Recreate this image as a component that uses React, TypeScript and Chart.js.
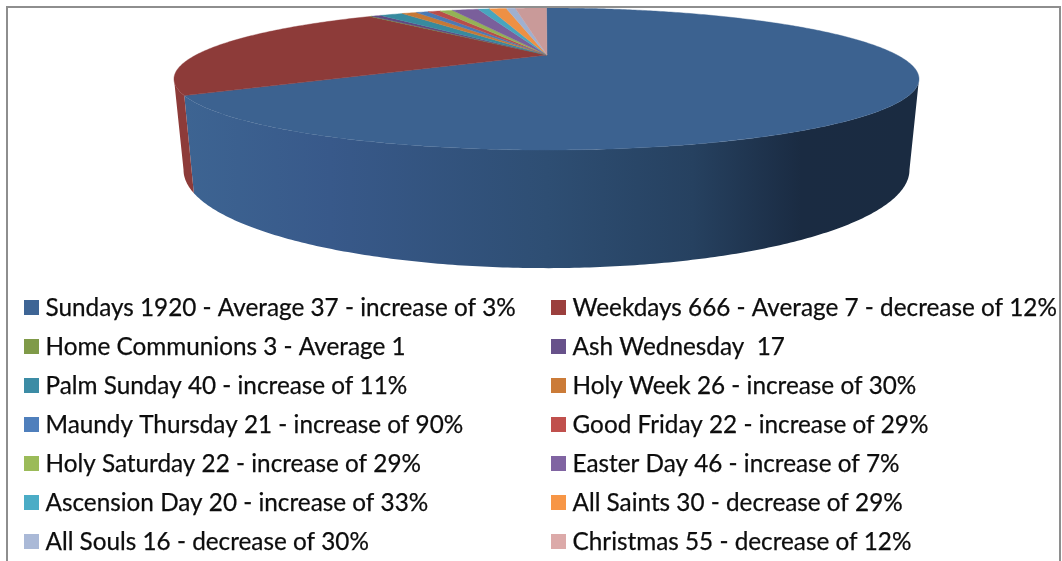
import React, { useEffect, useRef } from "react";
import { Chart, registerables } from "chart.js";

Chart.register(...registerables);

const legendLabels = [
  "Sundays 1920 - Average 37 - increase of 3%",
  "Weekdays 666 - Average 7 - decrease of 12%",
  "Home Communions 3 - Average 1",
  "Ash Wednesday  17",
  "Palm Sunday 40 - increase of 11%",
  "Holy Week 26 - increase of 30%",
  "Maundy Thursday 21 - increase of 90%",
  "Good Friday 22 - increase of 29%",
  "Holy Saturday 22 - increase of 29%",
  "Easter Day 46 - increase of 7%",
  "Ascension Day 20 - increase of 33%",
  "All Saints 30 - decrease of 29%",
  "All Souls 16 - decrease of 30%",
  "Christmas 55 - decrease of 12%",
];
const services = [1920, 666, 3, 17, 40, 26, 21, 22, 22, 46, 20, 30, 16, 55];
const legendColors = ["#3E6595", "#9B3F3D", "#7F9A48", "#67518A", "#3C8CA5", "#CB7B38", "#4F7FBC", "#C0504D", "#9BBB59", "#8064A2", "#4BACC6", "#F79646", "#AAB9D7", "#DCAAA9"];
const faceColors = ["#3C6290", "#8D3B39", "#78923F", "#5F4A82", "#378A9F", "#C67836", "#4A7AB5", "#B84D4A", "#94B255", "#7A5F9B", "#48A5BE", "#EE9044", "#9FB0D0", "#C99A99"];

const FONT = '24.3px Lato, "Open Sans", sans-serif';

// Perspective projection of the unit disc onto the picture
const topPlane = { cx: 546.5, cy: 55, a: 350.6, b: 62.9, k: 0.338 };
const basePlane = { cx: 546.5, cy: 137, a: 342, b: 87.2, k: 0.335 };
// the rim can be seen only between these two angles (canvas radians)
const RIM_FROM = 0.34;
const RIM_TO = Math.PI - 0.34;

function project(p: typeof topPlane, angle: number): [number, number] {
  const u = Math.cos(angle);
  const v = -Math.sin(angle);
  const d = 1 + p.k * v;
  return [p.cx + (p.a * u) / d, p.cy - (p.b * v) / d];
}

const pie3d = {
  id: "pie3d",
  beforeDatasetsDraw(chart: any) {
    const ctx: CanvasRenderingContext2D = chart.ctx;
    const arcs = chart.getDatasetMeta(0).data;
    const wallGradient = ctx.createLinearGradient(185, 0, 910, 0);
    wallGradient.addColorStop(0, "#3D6492");
    wallGradient.addColorStop(0.2, "#38598A");
    wallGradient.addColorStop(0.5, "#2E4E73");
    wallGradient.addColorStop(0.7, "#264160");
    wallGradient.addColorStop(0.85, "#1A2B42");
    wallGradient.addColorStop(1, "#1A2B41");

    arcs.forEach((arc: any, i: number) => {
      const lo = Math.max(arc.startAngle, RIM_FROM);
      const hi = Math.min(arc.endAngle, RIM_TO);
      if (hi <= lo) return;
      const steps = Math.ceil((hi - lo) / 0.01);
      ctx.fillStyle = i === 0 ? wallGradient : faceColors[i];
      ctx.beginPath();
      for (let s = 0; s <= steps; s++) {
        const [x, y] = project(topPlane, lo + ((hi - lo) * s) / steps);
        if (s === 0) ctx.moveTo(x, y);
        else ctx.lineTo(x, y);
      }
      for (let s = steps; s >= 0; s--) {
        const [x, y] = project(basePlane, lo + ((hi - lo) * s) / steps);
        ctx.lineTo(x, y);
      }
      ctx.closePath();
      ctx.fill();
    });

    // the top face
    arcs.forEach((arc: any, i: number) => {
      const steps = Math.max(2, Math.ceil((arc.endAngle - arc.startAngle) / 0.01));
      ctx.fillStyle = faceColors[i];
      ctx.strokeStyle = faceColors[i];
      ctx.lineWidth = 0.4;
      ctx.beginPath();
      ctx.moveTo(topPlane.cx + 0.5, topPlane.cy);
      for (let s = 0; s <= steps; s++) {
        const [x, y] = project(topPlane, arc.startAngle + ((arc.endAngle - arc.startAngle) * s) / steps);
        ctx.lineTo(x, y);
      }
      ctx.closePath();
      ctx.fill();
      ctx.stroke();
    });
    return false;
  },
  afterDraw(chart: any) {
    const ctx: CanvasRenderingContext2D = chart.ctx;
    ctx.save();
    // frame (open at the bottom)
    ctx.strokeStyle = "#8E8E8E";
    ctx.lineWidth = 2;
    ctx.beginPath();
    ctx.moveTo(7, 561);
    ctx.lineTo(7, 7);
    ctx.lineTo(1060, 7);
    ctx.lineTo(1060, 561);
    ctx.stroke();

    // two-column legend
    ctx.font = FONT;
    ctx.textBaseline = "alphabetic";
    ctx.textAlign = "left";
    ctx.strokeStyle = "#0D0D0D";
    ctx.lineWidth = 0.25;
    chart.data.labels.forEach((label: string, i: number) => {
      const col = i % 2;
      const row = Math.floor(i / 2);
      const boxX = col === 0 ? 24 : 551;
      const boxY = 300 + row * 39;
      ctx.fillStyle = legendColors[i];
      ctx.fillRect(boxX, boxY, 15, 15);
      ctx.fillStyle = "#0D0D0D";
      ctx.fillText(label, boxX + 21.5, boxY + 15.5);
      ctx.strokeText(label, boxX + 21.5, boxY + 15.5);
    });
    ctx.restore();
  },
};

export default function App() {
  const ref = useRef<HTMLCanvasElement>(null);
  useEffect(() => {
    document.body.style.margin = "0";
    document.documentElement.style.overflow = "hidden";
    const chart = new Chart(ref.current as HTMLCanvasElement, {
      type: "pie",
      data: {
        labels: legendLabels,
        datasets: [{ data: services, backgroundColor: faceColors, borderWidth: 0 }],
      },
      options: {
        responsive: false,
        animation: false,
        rotation: 0,
        plugins: { legend: { display: false }, tooltip: { enabled: false } },
      },
      plugins: [pie3d],
    } as any);
    return () => chart.destroy();
  }, []);
  return (
    <div style={{ position: "absolute", left: 0, top: 0, width: 1062, height: 561, background: "#fff" }}>
      <canvas ref={ref} width={1062} height={561} style={{ display: "block" }} />
    </div>
  );
}
